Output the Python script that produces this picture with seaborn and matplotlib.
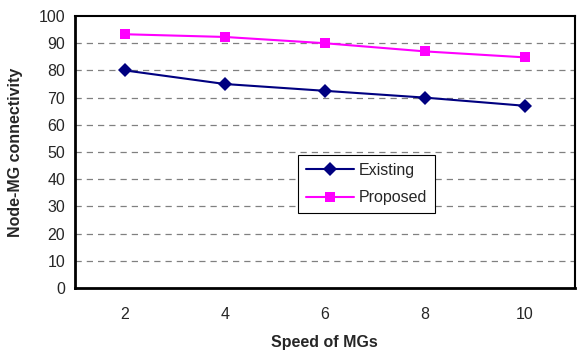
import pandas as pd
import matplotlib.pyplot as plt
import seaborn as sns
import numpy as np

speeds = ['2', '4', '6', '8', '10']
existing = [80, 75, 72.5, 70, 67]
proposed = [93.3, 92.3, 90, 87, 84.8]

df = pd.DataFrame({
    'pos': list(range(len(speeds))) * 2,
    'value': existing + proposed,
    'series': ['Existing'] * len(speeds) + ['Proposed'] * len(speeds),
})

sns.set_style('white')
plt.rcParams['font.family'] = ['Liberation Sans', 'DejaVu Sans']

fig = plt.figure(figsize=(5.77, 3.56), dpi=100)
ax = fig.add_axes([0.130, 0.191, 0.866, 0.764])

sns.lineplot(data=df, x='pos', y='value', hue='series', style='series',
             palette={'Existing': '#000080', 'Proposed': '#FF00FF'},
             markers={'Existing': 'D', 'Proposed': 's'}, dashes=False,
             markersize=7, markeredgewidth=0, linewidth=1.5, ax=ax)

ax.set_xlim(-0.5, len(speeds) - 0.5)
ax.set_ylim(0, 100)
ax.set_yticks(range(0, 101, 10))
ax.set_xticks(range(len(speeds)))
ax.set_xticklabels(speeds)
ax.set_xticks(np.arange(-0.5, len(speeds), 1), minor=True)
ax.tick_params(axis='x', which='major', length=0, pad=14, labelsize=11.5)
ax.tick_params(axis='x', which='minor', length=4, width=0.8, color='#555555', direction='out')
ax.tick_params(axis='y', length=4, width=0.8, color='#555555', direction='out', labelsize=11.5, pad=3)

for y in range(10, 100, 10):
    ax.axhline(y, color='#808080', linestyle=(0, (5, 4)), linewidth=0.9, zorder=0)

for side in ['left', 'bottom', 'top', 'right']:
    ax.spines[side].set_color('black')
ax.spines['left'].set_linewidth(2)
ax.spines['bottom'].set_linewidth(2)
ax.spines['top'].set_linewidth(1.5)
ax.spines['right'].set_linewidth(1.5)

ax.set_xlabel('Speed of MGs', fontsize=11.5, fontweight='bold', labelpad=9)
ax.set_ylabel('Node-MG connectivity', fontsize=11.5, fontweight='bold', labelpad=11)

leg = ax.legend(loc='upper left', bbox_to_anchor=(0.43, 0.52), fontsize=11.5,
                frameon=True, fancybox=False, edgecolor='black', framealpha=1,
                borderpad=0.5, handlelength=3.0, labelspacing=0.8, handletextpad=0.3)
leg.get_frame().set_linewidth(0.8)

plt.savefig('out.png', dpi=100)
